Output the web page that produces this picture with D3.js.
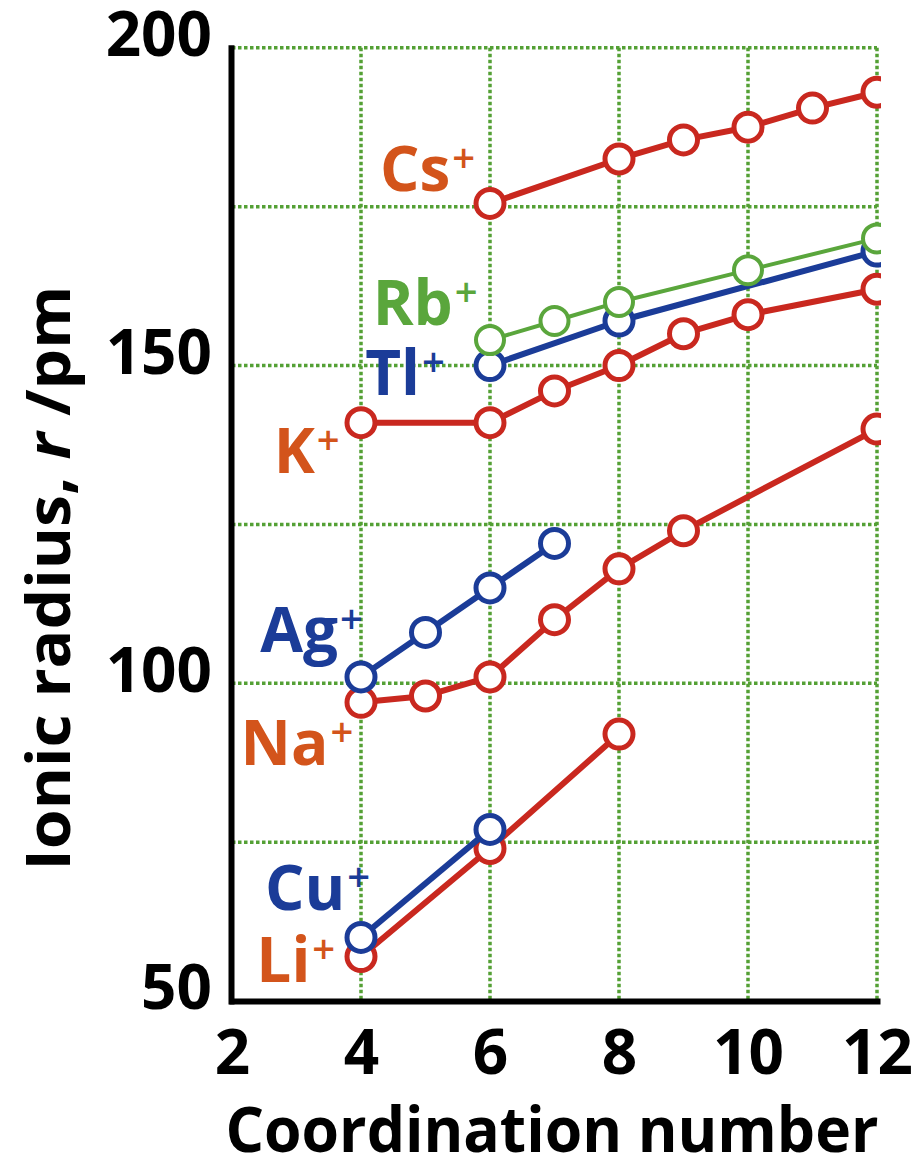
<!DOCTYPE html>
<html><head><meta charset="utf-8">
<script src="https://cdn.jsdelivr.net/npm/d3@7"></script>
<style>body{margin:0;background:#fff}svg{display:block}</style>
</head><body><svg id="c" width="913" height="1160"></svg>
<script>
// ---- data ----
const xTicks = [2, 4, 6, 8, 10, 12];
const yTicks = [50, 100, 150, 200];
const xGrid = [4, 6, 8, 10, 12];
const yGrid = [75, 100, 125, 150, 175, 200];

const li = [[4, 57], [6, 74], [8, 92]];
const na = [[4, 97], [5, 98], [6, 101], [7, 110], [8, 118], [9, 124], [12, 140]];
const k  = [[4, 141], [6, 141], [7, 146], [8, 150], [9, 155], [10, 158], [12, 162]];
const cs = [[6, 175.5], [8, 182.5], [9, 185.5], [10, 187.5], [11, 190.5], [12, 193]];
const cu = [[4, 60], [6, 77]];
const ag = [[4, 101], [5, 108], [6, 115], [7, 122]];
const tl = [[6, 150], [8, 157], [12, 168]];
const rb = [[6, 154], [7, 157], [8, 160], [10, 165], [12, 170]];

const ionNames = ["Cs", "Rb", "Tl", "K", "Ag", "Na", "Cu", "Li"];
// label right-end anchor in data coordinates (coordination number, radius)
const labelAnchors = [[5.77, 177.5], [5.81, 156.4], [5.30, 145.4], [3.67, 133.1],
                      [4.03, 104.9], [3.88, 87.1], [4.14, 64.3], [3.60, 53.0]];

// ---- styles ----
const RED = "#c9281f", ORANGE = "#d3541b", BLUE = "#1b3c98", GREEN = "#5aa63c", GRID = "#54a035";
const FONT = "'Open Sans', 'Noto Sans', sans-serif";

const series = [
  {data: li, color: RED, w: 6},
  {data: na, color: RED, w: 6},
  {data: k,  color: RED, w: 6},
  {data: cs, color: RED, w: 6},
  {data: cu, color: BLUE, w: 6},
  {data: ag, color: BLUE, w: 6},
  {data: tl, color: BLUE, w: 6},
  {data: rb, color: GREEN, w: 4}
];
const labelColors = [ORANGE, GREEN, BLUE, ORANGE, BLUE, ORANGE, BLUE, ORANGE];

const svg = d3.select("#c");
const x = d3.scaleLinear().domain([2, 12]).range([232, 877]);
const y = d3.scaleLinear().domain([50, 200]).range([1001, 47.75]);

// gridlines
const grid = svg.append("g").attr("stroke", GRID).attr("stroke-width", 3.5).attr("stroke-dasharray", "3.5,2.5");
grid.selectAll("line.v").data(xGrid).join("line")
  .attr("x1", d => x(d)).attr("x2", d => x(d)).attr("y1", y(200)).attr("y2", y(50));
grid.selectAll("line.h").data(yGrid).join("line")
  .attr("y1", d => y(d)).attr("y2", d => y(d)).attr("x1", x(2)).attr("x2", x(12));

// axes
const yAxis = svg.append("g").attr("transform", `translate(${x(2) - 1},0)`)
  .call(d3.axisLeft(y).tickValues(yTicks).tickSize(0).tickSizeOuter(0).tickPadding(19));
const xAxis = svg.append("g").attr("transform", `translate(0,${y(50)})`)
  .call(d3.axisBottom(x).tickValues(xTicks).tickSize(0).tickSizeOuter(0).tickPadding(29));
[xAxis, yAxis].forEach(a => {
  a.select(".domain").attr("stroke", "#000").attr("stroke-width", 6).attr("stroke-linecap", "square");
  a.selectAll("text").attr("fill", "#000").style("font-family", FONT).style("font-weight", 700).style("font-size", "62px");
});
yAxis.selectAll("text").attr("y", -12);

// clip for markers at right edge
svg.append("clipPath").attr("id", "clip").append("rect")
  .attr("x", 0).attr("y", 0).attr("width", x(12) + 4).attr("height", 1160);

const plot = svg.append("g").attr("clip-path", "url(#clip)");
const line = d3.line().x(d => x(d[0])).y(d => y(d[1]));
series.forEach(s => {
  const g = plot.append("g");
  g.append("path").datum(s.data).attr("d", line).attr("fill", "none")
    .attr("stroke", s.color).attr("stroke-width", s.w).attr("stroke-linejoin", "round");
  g.selectAll("circle").data(s.data).join("circle")
    .attr("cx", d => x(d[0])).attr("cy", d => y(d[1])).attr("r", 14)
    .attr("fill", "#fff").attr("stroke", s.color).attr("stroke-width", s.color === GREEN ? 4 : 5);
});

// ion labels
ionNames.forEach((n, i) => {
  const t = svg.append("text")
    .attr("x", x(labelAnchors[i][0])).attr("y", y(labelAnchors[i][1]))
    .attr("text-anchor", "end").attr("fill", labelColors[i])
    .style("font-family", FONT).style("font-weight", 700).style("font-size", "62px");
  t.append("tspan").text(n);
  t.append("tspan").text("+").attr("dx", 2).attr("dy", -19)
    .style("font-size", "40px").style("font-weight", 600);
});

// axis titles
svg.append("text").attr("x", 552).attr("y", 1152).attr("text-anchor", "middle")
  .attr("textLength", 653).attr("lengthAdjust", "spacingAndGlyphs")
  .style("font-family", FONT).style("font-weight", 700).style("font-size", "62px")
  .text("Coordination number");

const yt = svg.append("text").attr("transform", "translate(70,578) rotate(-90)")
  .attr("text-anchor", "middle").attr("textLength", 585).attr("lengthAdjust", "spacingAndGlyphs")
  .style("font-family", FONT).style("font-weight", 700).style("font-size", "60px");
yt.append("tspan").text("Ionic radius, ");
yt.append("tspan").text("r").style("font-style", "italic");
yt.append("tspan").text(" /pm");
</script></body></html>
